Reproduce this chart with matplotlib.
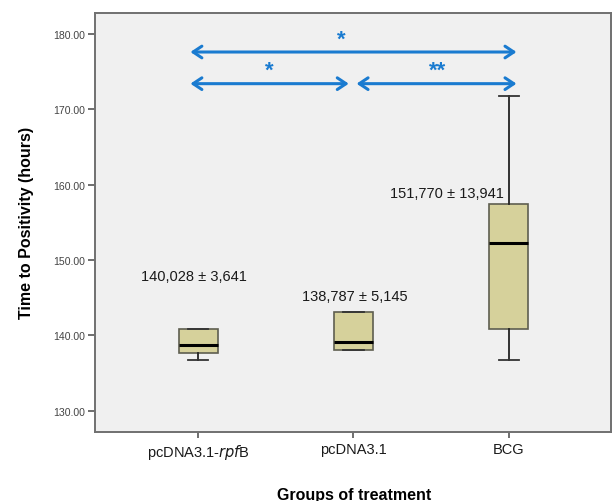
import matplotlib
matplotlib.use("Agg")
from matplotlib import pyplot as plt

plt.rcParams['font.family'] = ['Liberation Sans', 'DejaVu Sans']

# data
groups = ['pcDNA3.1-$\\it{rpf}$B', 'pcDNA3.1', 'BCG']
q1 = [137.7, 138.1, 140.9]
med = [138.8, 139.2, 152.2]
q3 = [140.9, 143.1, 157.4]
wlo = [136.8, 138.1, 136.7]
whi = [140.9, 143.1, 171.8]
mean_sd = ['140,028 ± 3,641', '138,787 ± 5,145', '151,770 ± 13,941']
label_xy = [(-0.03, 147.9), (1.01, 145.3), (1.60, 158.9)]

# significance brackets: (x0, x1, y, text, text_x)
sig = [(-0.05, 2.05, 177.6, '*', 0.92),
       (-0.05, 0.97, 173.4, '*', 0.46),
       (1.02, 2.05, 173.4, '**', 1.54)]

box_col = '#d6d19b'
edge_col = '#5e5e50'
arrow_col = '#1a7bd0'

fig = plt.figure(figsize=(6.12, 5.02), dpi=100)
ax = fig.add_axes((0.155, 0.1375, 0.843, 0.835))
ax.set_facecolor('#f0f0f0')

stats = []
for i in range(len(groups)):
    stats.append(dict(q1=q1[i], med=med[i], q3=q3[i], whislo=wlo[i], whishi=whi[i], fliers=[]))

ax.bxp(stats, positions=[0, 1, 2], widths=0.25, capwidths=0.13, patch_artist=True,
       showfliers=False,
       boxprops=dict(facecolor=box_col, edgecolor=edge_col, linewidth=1.2),
       medianprops=dict(color='black', linewidth=2.2),
       whiskerprops=dict(color='#222222', linewidth=1.3),
       capprops=dict(color='#333333', linewidth=1.3))

for txt, (x, y) in zip(mean_sd, label_xy):
    ax.text(x, y, txt, ha='center', va='center', fontsize=10.5, color='#1a1a1a')

for x0, x1, y, t, tx in sig:
    ax.annotate('', xy=(x1, y), xytext=(x0, y),
                arrowprops=dict(arrowstyle='<->,head_length=0.45,head_width=0.3',
                                color=arrow_col, lw=2.2, mutation_scale=14,
                                shrinkA=0, shrinkB=0))
    ax.text(tx, y + 0.35, t, ha='center', va='bottom', fontsize=16,
            color=arrow_col, fontweight='bold')

ax.set_xlim(-0.665, 2.657)
ax.set_ylim(127.2, 182.8)
ax.set_yticks([130, 140, 150, 160, 170, 180])
ax.set_yticklabels(['%.2f' % v for v in [130, 140, 150, 160, 170, 180]])
ax.set_xticks([0, 1, 2])
ax.set_xticklabels(groups)
ax.tick_params(axis='y', labelsize=7.6, colors='#555555', length=5, width=1.2,
               labelcolor='#444444', pad=2)
ax.tick_params(axis='x', labelsize=10.5, length=4, width=1.2, colors='#555555',
               labelcolor='#1a1a1a', pad=3)

for s in ax.spines.values():
    s.set_color('#707070')
    s.set_linewidth(1.4)

ax.set_ylabel('Time to Positivity (hours)', fontsize=11.5, fontweight='bold', labelpad=14)
fig.text(0.578, 0.012, 'Groups of treatment', ha='center', va='center',
         fontsize=11.5, fontweight='bold')

fig.savefig('out.png', dpi=100)
